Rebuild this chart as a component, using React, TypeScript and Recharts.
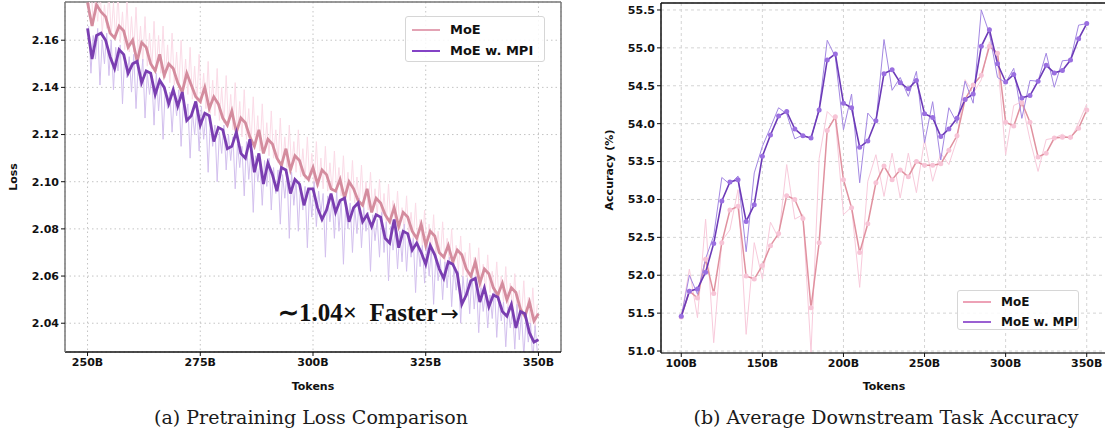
import React from "react";
import { LineChart, Line, XAxis, YAxis, CartesianGrid, ReferenceLine } from "recharts";

// ---- (a) pretraining loss, tokens in billions ----
const lossStart = 250; // smoothed curve: one point per 1B
const rawStart = 250.25; // raw curve: one point per 0.5B
const lossTicks = [250, 275, 300, 325, 350];
const lossYTicks = [2.04, 2.06, 2.08, 2.1, 2.12, 2.14, 2.16];

const moeLoss = [
  2.176, 2.166, 2.175, 2.172, 2.17, 2.163, 2.161, 2.166, 2.164, 2.157,
  2.16, 2.151, 2.159, 2.157, 2.15, 2.147, 2.154, 2.145, 2.15, 2.148,
  2.142, 2.138, 2.146, 2.141, 2.136, 2.134, 2.14, 2.131, 2.136, 2.133,
  2.127, 2.124, 2.13, 2.121, 2.127, 2.125, 2.119, 2.115, 2.122, 2.112,
  2.118, 2.116, 2.11, 2.107, 2.114, 2.105, 2.111, 2.109, 2.103, 2.101,
  2.106, 2.099, 2.105, 2.103, 2.097, 2.096, 2.101, 2.093, 2.1, 2.097,
  2.092, 2.09, 2.097, 2.087, 2.093, 2.091, 2.086, 2.083, 2.089, 2.081,
  2.087, 2.085, 2.079, 2.076, 2.082, 2.073, 2.079, 2.077, 2.07, 2.068,
  2.073, 2.066, 2.071, 2.069, 2.063, 2.06, 2.066, 2.057, 2.063, 2.061,
  2.055, 2.052, 2.057, 2.05, 2.055, 2.053, 2.046, 2.043, 2.049, 2.041,
  2.044,
];
const mpiLoss = [
  2.165, 2.152, 2.162, 2.163, 2.16, 2.153, 2.148, 2.156, 2.154, 2.146,
  2.15, 2.151, 2.142, 2.147, 2.146, 2.137, 2.143, 2.14, 2.133, 2.139,
  2.132, 2.138, 2.126, 2.128, 2.134, 2.124, 2.129, 2.128, 2.117, 2.123,
  2.122, 2.114, 2.115, 2.121, 2.112, 2.11, 2.118, 2.104, 2.112, 2.099,
  2.108, 2.103, 2.096, 2.106, 2.105, 2.095, 2.101, 2.099, 2.09, 2.097,
  2.097, 2.089, 2.084, 2.088, 2.095, 2.087, 2.092, 2.093, 2.083, 2.089,
  2.091, 2.083, 2.086, 2.081, 2.086, 2.085, 2.076, 2.074, 2.084, 2.072,
  2.079, 2.078, 2.071, 2.074, 2.07, 2.065, 2.073, 2.069, 2.063, 2.059,
  2.066, 2.065, 2.061, 2.048, 2.052, 2.058, 2.059, 2.049, 2.055, 2.047,
  2.052, 2.051, 2.045, 2.043, 2.048, 2.038, 2.045, 2.044, 2.036, 2.032,
  2.033,
];
const moeLossRaw = [
  2.17, 2.186, 2.166, 2.178, 2.168, 2.183, 2.163, 2.175, 2.165, 2.181,
  2.162, 2.176, 2.16, 2.18, 2.159, 2.172, 2.156, 2.177, 2.155, 2.17,
  2.155, 2.174, 2.153, 2.166, 2.151, 2.17, 2.149, 2.163, 2.148, 2.168,
  2.147, 2.162, 2.146, 2.166, 2.144, 2.158, 2.142, 2.163, 2.141, 2.155,
  2.14, 2.16, 2.139, 2.152, 2.137, 2.157, 2.135, 2.149, 2.134, 2.154,
  2.133, 2.146, 2.131, 2.151, 2.129, 2.143, 2.128, 2.148, 2.126, 2.14,
  2.125, 2.145, 2.124, 2.137, 2.122, 2.142, 2.12, 2.134, 2.119, 2.139,
  2.118, 2.131, 2.116, 2.136, 2.115, 2.128, 2.113, 2.133, 2.112, 2.125,
  2.111, 2.13, 2.11, 2.122, 2.108, 2.127, 2.106, 2.119, 2.106, 2.124,
  2.105, 2.117, 2.104, 2.122, 2.102, 2.114, 2.101, 2.119, 2.1, 2.112,
  2.099, 2.117, 2.098, 2.11, 2.097, 2.115, 2.096, 2.108, 2.096, 2.113,
  2.095, 2.106, 2.094, 2.111, 2.093, 2.104, 2.092, 2.109, 2.091, 2.102,
  2.09, 2.107, 2.089, 2.1, 2.088, 2.104, 2.087, 2.097, 2.086, 2.101,
  2.084, 2.095, 2.083, 2.099, 2.082, 2.092, 2.081, 2.096, 2.08, 2.089,
  2.079, 2.094, 2.077, 2.087, 2.076, 2.091, 2.074, 2.084, 2.073, 2.088,
  2.071, 2.082, 2.07, 2.086, 2.069, 2.079, 2.067, 2.083, 2.066, 2.076,
  2.065, 2.08, 2.063, 2.073, 2.062, 2.077, 2.06, 2.07, 2.059, 2.074,
  2.058, 2.068, 2.057, 2.072, 2.055, 2.065, 2.054, 2.069, 2.053, 2.062,
  2.052, 2.066, 2.05, 2.06, 2.049, 2.064, 2.047, 2.057, 2.046, 2.061,
  2.044, 2.054, 2.043, 2.058, 2.041, 2.051, 2.039, 2.055, 2.038, 2.048,
];
const mpiLossRaw = [
  2.166, 2.146, 2.162, 2.152, 2.165, 2.141, 2.16, 2.15, 2.163, 2.145,
  2.16, 2.139, 2.157, 2.147, 2.158, 2.133, 2.154, 2.144, 2.153, 2.138,
  2.154, 2.131, 2.15, 2.14, 2.152, 2.127, 2.146, 2.137, 2.145, 2.124,
  2.146, 2.13, 2.142, 2.118, 2.14, 2.131, 2.138, 2.121, 2.137, 2.128,
  2.139, 2.115, 2.134, 2.126, 2.133, 2.11, 2.13, 2.12, 2.131, 2.113,
  2.132, 2.118, 2.128, 2.104, 2.126, 2.115, 2.124, 2.1, 2.121, 2.112,
  2.124, 2.105, 2.12, 2.109, 2.119, 2.097, 2.116, 2.106, 2.115, 2.094,
  2.117, 2.101, 2.113, 2.087, 2.111, 2.1, 2.108, 2.09, 2.109, 2.098,
  2.11, 2.088, 2.106, 2.095, 2.105, 2.082, 2.103, 2.093, 2.104, 2.076,
  2.104, 2.09, 2.101, 2.079, 2.099, 2.088, 2.098, 2.072, 2.097, 2.085,
  2.1, 2.081, 2.096, 2.087, 2.095, 2.068, 2.094, 2.083, 2.093, 2.076,
  2.096, 2.079, 2.092, 2.065, 2.09, 2.08, 2.091, 2.07, 2.089, 2.078,
  2.093, 2.072, 2.089, 2.079, 2.087, 2.062, 2.086, 2.075, 2.084, 2.068,
  2.087, 2.07, 2.083, 2.058, 2.081, 2.071, 2.08, 2.063, 2.079, 2.066,
  2.082, 2.062, 2.078, 2.068, 2.076, 2.053, 2.074, 2.064, 2.073, 2.057,
  2.075, 2.06, 2.071, 2.048, 2.069, 2.058, 2.067, 2.05, 2.066, 2.055,
  2.068, 2.047, 2.064, 2.054, 2.062, 2.04, 2.06, 2.05, 2.059, 2.044,
  2.061, 2.046, 2.057, 2.036, 2.055, 2.045, 2.053, 2.038, 2.052, 2.042,
  2.055, 2.034, 2.051, 2.041, 2.049, 2.03, 2.047, 2.038, 2.046, 2.029,
  2.048, 2.033, 2.044, 2.026, 2.042, 2.032, 2.04, 2.024, 2.039, 2.028,
];

// ---- (b) downstream accuracy ----
const accTokens = [
  100, 105, 110, 115, 120, 125, 130, 135, 140, 145,
  150, 155, 160, 165, 170, 175, 180, 185, 190, 195,
  200, 205, 210, 215, 220, 225, 230, 235, 240, 245,
  250, 255, 260, 265, 270, 275, 280, 285, 290, 295,
  300, 305, 310, 315, 320, 325, 330, 335, 340, 345,
  350,
];
const accXTicks = [100, 150, 200, 250, 300, 350];
const accYTicks = [51, 51.5, 52, 52.5, 53, 53.5, 54, 54.5, 55, 55.5];

const moeAcc = [
  51.45, 51.79, 51.7, 52.21, 51.76, 52.43, 52.86, 52.91, 51.99, 51.95,
  52.13, 52.39, 52.55, 53.05, 53.0, 52.75, 51.57, 52.43, 53.91, 54.09,
  53.26, 52.89, 52.3, 52.68, 53.22, 53.44, 53.26, 53.39, 53.3, 53.5,
  53.45, 53.45, 53.47, 53.65, 53.84, 54.32, 54.51, 54.64, 55.02, 54.93,
  54.02, 53.97, 54.28, 54.02, 53.56, 53.61, 53.81, 53.82, 53.82, 53.94,
  54.18,
];
const moeAccRaw = [
  51.45, 52.08, 51.44, 52.74, 51.11, 52.45, 52.6, 53.13, 51.22, 52.43,
  51.95, 52.7, 52.49, 53.46, 52.74, 52.8, 50.98, 53.54, 54.16, 54.05,
  52.8, 52.9, 51.84, 53.24, 53.59, 53.04, 53.61, 53.02, 53.61, 53.09,
  53.79, 53.24, 53.61, 53.46, 53.79, 54.58, 54.4, 54.58, 55.08, 54.84,
  53.59, 54.24, 54.29, 53.79, 53.37, 53.79, 53.81, 53.86, 53.79, 54.01,
  54.26,
];
const mpiAcc = [
  51.46, 51.79, 51.82, 52.04, 52.42, 52.98, 53.23, 53.26, 52.71, 52.93,
  53.57, 53.85, 54.1, 54.16, 53.93, 53.84, 53.81, 54.18, 54.84, 54.92,
  54.27, 54.21, 53.69, 53.77, 54.04, 54.66, 54.71, 54.54, 54.46, 54.57,
  54.13, 54.08, 53.83, 53.93, 54.07, 54.32, 54.39, 55.02, 55.24, 54.79,
  54.55, 54.65, 54.34, 54.37, 54.56, 54.77, 54.67, 54.7, 54.84, 55.12,
  55.32,
];
const mpiAccRaw = [
  51.45, 52.0, 51.75, 52.22, 52.52, 53.29, 53.2, 53.31, 52.31, 53.35,
  53.7, 53.95, 54.21, 54.13, 53.8, 53.85, 53.8, 54.2, 55.1, 54.88,
  53.92, 54.39, 53.22, 54.14, 54.01, 55.11, 54.44, 54.61, 54.36, 54.69,
  53.75, 54.29, 53.52, 54.21, 54.01, 54.56, 54.27, 55.5, 55.19, 54.61,
  54.54, 54.73, 54.07, 54.57, 54.56, 54.93, 54.48, 54.83, 54.84, 55.3,
  55.32,
];

// one table for the loss plot: smoothed rows and raw rows, sorted by x
const lossData: any[] = [
  ...moeLoss.map((v, i) => ({ x: lossStart + i, moe: v, mpi: mpiLoss[i] })),
  ...moeLossRaw.map((v, i) => ({ x: rawStart + i * 0.5, moeRaw: v, mpiRaw: mpiLossRaw[i] })),
].sort((a, b) => a.x - b.x);

const accData = accTokens.map((t, i) => ({
  x: t,
  moe: moeAcc[i],
  moeRaw: moeAccRaw[i],
  mpi: mpiAcc[i],
  mpiRaw: mpiAccRaw[i],
}));

const tick = { fontSize: 11, fontWeight: 700, fill: "#111", fontFamily: "DejaVu Sans" };
const titleStyle: React.CSSProperties = {
  position: "absolute",
  fontFamily: "DejaVu Sans",
  fontWeight: 700,
  fontSize: 11,
  color: "#111",
  whiteSpace: "nowrap",
  lineHeight: "11px",
};
const captionStyle: React.CSSProperties = {
  position: "absolute",
  fontFamily: "DejaVu Serif",
  fontSize: 19,
  color: "#1a1a1a",
  whiteSpace: "nowrap",
  lineHeight: "22px",
  textAlign: "center",
};

function LegendBox({ style, font, items }: { style: React.CSSProperties; font: number; items: { label: string; color: string }[] }) {
  return (
    <div
      style={{
        position: "absolute",
        background: "rgba(255,255,255,0.85)",
        border: "1px solid #d6d6d6",
        borderRadius: 3,
        boxSizing: "border-box",
        ...style,
      }}
    >
      {items.map((it) => (
        <div key={it.label} style={{ display: "flex", alignItems: "center", height: font + 8 }}>
          <div style={{ width: 28, height: 2, background: it.color, marginRight: 10 }} />
          <span style={{ fontFamily: "DejaVu Sans", fontWeight: 700, fontSize: font, color: "#111" }}>{it.label}</span>
        </div>
      ))}
    </div>
  );
}

export default function App() {
  return (
    <div
      style={{
        position: "absolute",
        left: 0,
        top: 0,
        width: 1105,
        height: 432,
        overflow: "hidden",
        background: "#fff",
      }}
    >
      {/* (a) loss */}
      <div style={{ position: "absolute", left: 0, top: 0 }}>
        <LineChart width={580} height={395} data={lossData} margin={{ top: 2, right: 19, bottom: 3, left: 10 }}>
          <CartesianGrid stroke="#c4c4c4" strokeDasharray="1.5 3" />
          <XAxis
            dataKey="x"
            type="number"
            domain={[245, 355]}
            ticks={lossTicks}
            tickFormatter={(v) => `${v}B`}
            tick={tick}
            tickSize={4}
            height={40}
            axisLine={{ stroke: "#111", strokeWidth: 1.5 }}
            tickLine={{ stroke: "#111" }}
            allowDataOverflow
          />
          <YAxis
            type="number"
            domain={[2.0278, 2.1762]}
            ticks={lossYTicks}
            tickFormatter={(v) => v.toFixed(2)}
            tick={tick}
            tickSize={4}
            width={55}
            axisLine={{ stroke: "#777", strokeWidth: 1.5 }}
            tickLine={{ stroke: "#111" }}
            allowDataOverflow
          />
          <ReferenceLine y={2.1762} stroke="#777" strokeWidth={1.5} />
          <ReferenceLine x={355} stroke="#777" strokeWidth={1.5} />
          <Line dataKey="moeRaw" stroke="#fbdbe7" strokeWidth={1} dot={false} connectNulls isAnimationActive={false} />
          <Line dataKey="mpiRaw" stroke="#d3c0ee" strokeWidth={1} dot={false} connectNulls isAnimationActive={false} />
          <Line dataKey="moe" stroke="#d48c9e" strokeWidth={2.8} dot={false} connectNulls isAnimationActive={false} />
          <Line dataKey="mpi" stroke="#7a3eb1" strokeWidth={2.8} dot={false} connectNulls isAnimationActive={false} />
        </LineChart>
      </div>
      <LegendBox
        style={{ left: 405, top: 16, width: 140, height: 46, padding: "2px 0 0 6px" }}
        font={13}
        items={[
          { label: "MoE", color: "#e3a3b4" },
          { label: "MoE w. MPI", color: "#8443c6" },
        ]}
      />
      <div
        style={{
          position: "absolute",
          left: 278,
          top: 299,
          fontFamily: "Liberation Serif",
          fontWeight: 700,
          fontSize: 25,
          lineHeight: "28px",
          color: "#111",
          whiteSpace: "nowrap",
        }}
      >
        ∼1.04×&nbsp; Faster
        <span style={{ fontFamily: "DejaVu Sans", fontWeight: 400, fontSize: 22, marginLeft: 3 }}>→</span>
      </div>
      <div style={{ ...titleStyle, left: 13, top: 177, transform: "translate(-50%, -50%) rotate(-90deg)" }}>Loss</div>
      <div style={{ ...titleStyle, left: 313, top: 386, transform: "translate(-50%, -50%)" }}>Tokens</div>
      <div style={{ ...captionStyle, left: 311, top: 406, transform: "translateX(-50%)" }}>(a) Pretraining Loss Comparison</div>

      {/* (b) accuracy */}
      <div style={{ position: "absolute", left: 596, top: 0 }}>
        <LineChart width={511} height={395} data={accData} margin={{ top: 3, right: 0, bottom: 2, left: 10 }}>
          <CartesianGrid stroke="#d4d4d4" strokeDasharray="3 3" />
          <XAxis
            dataKey="x"
            type="number"
            domain={[87.5, 362.5]}
            ticks={accXTicks}
            tickFormatter={(v) => `${v}B`}
            tick={tick}
            tickSize={4}
            height={40}
            axisLine={{ stroke: "#444", strokeWidth: 1.5 }}
            tickLine={{ stroke: "#111" }}
          />
          <YAxis
            type="number"
            domain={[50.974, 55.592]}
            ticks={accYTicks}
            tickFormatter={(v) => v.toFixed(1)}
            tick={tick}
            tickSize={4}
            width={55}
            axisLine={{ stroke: "#111", strokeWidth: 1.5 }}
            tickLine={{ stroke: "#111" }}
            allowDataOverflow
          />
          <ReferenceLine y={55.592} stroke="#111" strokeWidth={1.5} />
          <Line dataKey="moeRaw" stroke="#f8cadb" strokeWidth={1} dot={false} isAnimationActive={false} />
          <Line
            dataKey="moe"
            stroke="#e0919f"
            strokeWidth={1.5}
            dot={{ r: 2.5, fill: "#f7c4d6", stroke: "none" }}
            isAnimationActive={false}
          />
          <Line dataKey="mpiRaw" stroke="#a387e2" strokeWidth={1} dot={false} isAnimationActive={false} />
          <Line
            dataKey="mpi"
            stroke="#6c3ab7"
            strokeWidth={1.6}
            dot={{ r: 2.5, fill: "#9a6fe0", stroke: "none" }}
            isAnimationActive={false}
          />
        </LineChart>
      </div>
      <LegendBox
        style={{ left: 957, top: 290, width: 122, height: 40, padding: "1px 0 0 5px" }}
        font={12}
        items={[
          { label: "MoE", color: "#eda2b6" },
          { label: "MoE w. MPI", color: "#9a60d2" },
        ]}
      />
      <div style={{ ...titleStyle, left: 609, top: 170, transform: "translate(-50%, -50%) rotate(-90deg)" }}>Accuracy (%)</div>
      <div style={{ ...titleStyle, left: 884, top: 386, transform: "translate(-50%, -50%)" }}>Tokens</div>
      <div style={{ ...captionStyle, left: 886, top: 406, transform: "translateX(-50%)" }}>(b) Average Downstream Task Accuracy</div>
    </div>
  );
}
